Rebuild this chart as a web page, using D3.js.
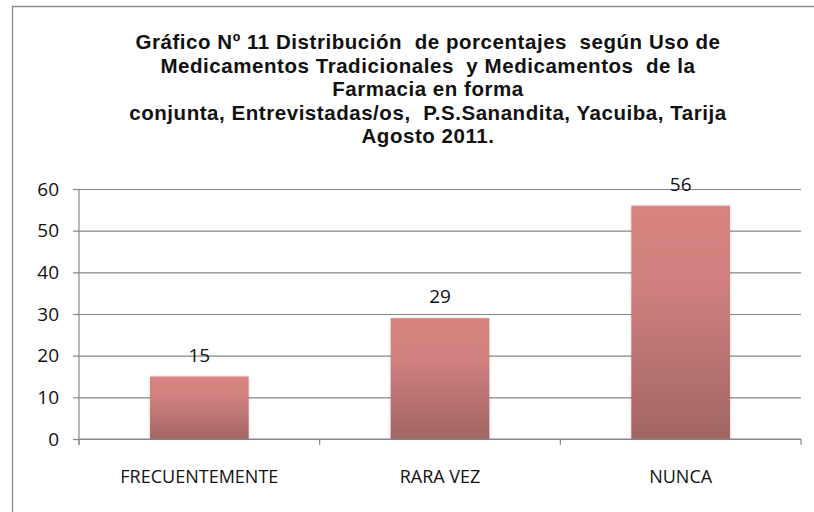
<!DOCTYPE html>
<html>
<head>
<meta charset="utf-8">
<script src="https://cdn.jsdelivr.net/npm/d3@7"></script>
<style>
  html, body { margin: 0; padding: 0; background: #fff; }
  svg { display: block; }
</style>
</head>
<body>
<div id="chart"></div>
<script>
const categories = ["FRECUENTEMENTE", "RARA VEZ", "NUNCA"];
const values = [15, 29, 56];
const yTicks = [0, 10, 20, 30, 40, 50, 60];
const titleLines = [
  "Gráfico Nº 11 Distribución  de porcentajes  según Uso de",
  "Medicamentos Tradicionales  y Medicamentos  de la",
  "Farmacia en forma",
  "conjunta, Entrevistadas/os,  P.S.Sanandita, Yacuiba, Tarija",
  "Agosto 2011."
];

const width = 814, height = 512;
const plot = { left: 79, right: 801, top: 189, bottom: 439 };
const labelFont = "'Open Sans', sans-serif";
const gridColor = "#878787";

const svg = d3.select("#chart").append("svg")
  .attr("width", width)
  .attr("height", height);

const defs = svg.append("defs");
const grad = defs.append("linearGradient")
  .attr("id", "barFill")
  .attr("x1", 0).attr("y1", 0).attr("x2", 0).attr("y2", 1);
grad.append("stop").attr("offset", "0%").attr("stop-color", "#d88480");
grad.append("stop").attr("offset", "35%").attr("stop-color", "#cf807d");
grad.append("stop").attr("offset", "100%").attr("stop-color", "#a16563");

const shadow = defs.append("filter").attr("id", "soft")
  .attr("x", "-10%").attr("y", "-10%").attr("width", "120%").attr("height", "120%");
shadow.append("feDropShadow")
  .attr("dx", 0).attr("dy", 0).attr("stdDeviation", 1.5)
  .attr("flood-color", "#000").attr("flood-opacity", 0.18);

// chart frame (right and bottom edges fall outside the picture)
svg.append("path")
  .attr("d", `M12.5,${height + 5} V6.5 H${width + 5}`)
  .attr("fill", "none")
  .attr("stroke", "#8a8a8a")
  .attr("stroke-width", 1.3);

// title
const title = svg.append("text")
  .attr("text-anchor", "middle")
  .attr("font-family", "'Liberation Sans', Arial, sans-serif")
  .attr("font-weight", "bold")
  .attr("font-size", 20.5)
  .attr("letter-spacing", 0.55)
  .attr("fill", "#111")
  .style("white-space", "pre");
title.selectAll("tspan")
  .data(titleLines)
  .join("tspan")
  .attr("x", 428)
  .attr("y", (d, i) => 49 + i * 23.5)
  .text(d => d);

const x = d3.scaleBand()
  .domain(categories)
  .range([plot.left, plot.right])
  .paddingInner(0.59)
  .paddingOuter(0.295);

const y = d3.scaleLinear()
  .domain([0, 60])
  .range([plot.bottom, plot.top]);

// horizontal gridlines
svg.append("g")
  .attr("transform", `translate(${plot.left},0)`)
  .call(d3.axisLeft(y).tickValues(yTicks).tickSize(-(plot.right - plot.left)).tickFormat(""))
  .call(g => g.select(".domain").remove())
  .call(g => g.selectAll("line").attr("stroke", gridColor).attr("stroke-width", 1.2));

// y axis with tick marks and labels
svg.append("g")
  .attr("transform", `translate(${plot.left},0)`)
  .call(d3.axisLeft(y).tickValues(yTicks).tickSize(6).tickPadding(14))
  .call(g => g.select(".domain").remove())
  .call(g => g.selectAll("line").attr("stroke", gridColor).attr("stroke-width", 1.2))
  .call(g => g.selectAll("text")
    .attr("font-family", labelFont)
    .attr("font-size", 19)
    .attr("fill", "#111"));

svg.append("line")
  .attr("x1", plot.left).attr("x2", plot.left)
  .attr("y1", y(60)).attr("y2", plot.bottom + 6)
  .attr("stroke", gridColor).attr("stroke-width", 1.2);

// bars
svg.append("g")
  .selectAll("rect")
  .data(values)
  .join("rect")
  .attr("x", (d, i) => x(categories[i]))
  .attr("y", d => y(d))
  .attr("width", x.bandwidth())
  .attr("height", d => y(0) - y(d))
  .attr("fill", "url(#barFill)")
  .attr("filter", "url(#soft)");

// x axis line and boundary ticks
const gap = (x.step() - x.bandwidth()) / 2;
const bounds = categories.map(c => x(c) - gap).concat([plot.right]);
svg.append("line")
  .attr("x1", plot.left).attr("x2", plot.right)
  .attr("y1", plot.bottom).attr("y2", plot.bottom)
  .attr("stroke", gridColor).attr("stroke-width", 1.2);
svg.append("g")
  .selectAll("line")
  .data(bounds)
  .join("line")
  .attr("x1", d => d).attr("x2", d => d)
  .attr("y1", plot.bottom).attr("y2", plot.bottom + 6)
  .attr("stroke", gridColor).attr("stroke-width", 1.2);

// category labels
svg.append("g")
  .attr("transform", `translate(0,${plot.bottom})`)
  .call(d3.axisBottom(x).tickSize(0).tickPadding(31))
  .call(g => g.select(".domain").remove())
  .call(g => g.selectAll("text")
    .attr("font-family", labelFont)
    .attr("font-size", 18)
    .attr("fill", "#111"));

// value labels
svg.append("g")
  .selectAll("text")
  .data(values)
  .join("text")
  .attr("x", (d, i) => x(categories[i]) + x.bandwidth() / 2)
  .attr("y", d => y(d) - 15)
  .attr("text-anchor", "middle")
  .attr("font-family", labelFont)
  .attr("font-size", 19)
  .attr("fill", "#111")
  .text(d => d);
</script>
</body>
</html>
